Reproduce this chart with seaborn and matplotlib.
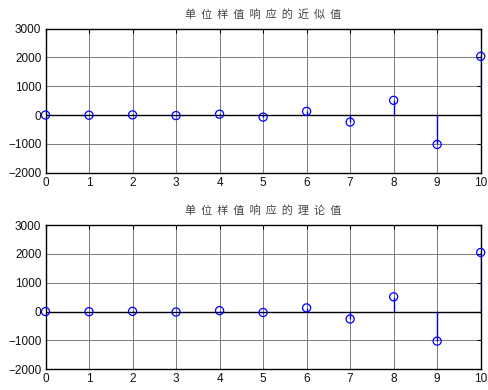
import numpy as np
import pandas as pd
import matplotlib
matplotlib.use("Agg")
import matplotlib.pyplot as plt
import seaborn as sns

# sample index n
n = [0, 1, 2, 3, 4, 5, 6, 7, 8, 9, 10]
# unit-sample response, approximate (recursive) values
h_approx = [2, -4, 8, -16, 32, -70, 130, -240, 512, -1020, 2040]
# unit-sample response, theoretical values
h_theory = [2, -4, 8, -16, 32, -32, 128, -256, 512, -1024, 2048]

titles = ["单位样值响应的近似值", "单位样值响应的理论值"]
xticks = list(range(0, 11))
yticks = [-2000, -1000, 0, 1000, 2000, 3000]

sns.set_style("white")
plt.rcParams["font.family"] = ["Liberation Sans", "DejaVu Sans"]

fig = plt.figure(figsize=(4.88, 3.90), dpi=100)
boxes = [
    [45.5 / 488, 1 - 172.7 / 390, (480.7 - 45.5) / 488, (172.7 - 28.7) / 390],
    [45.5 / 488, 1 - 369.3 / 390, (480.7 - 45.5) / 488, (369.3 - 225.0) / 390],
]

for box, vals, title in zip(boxes, [h_approx, h_theory], titles):
    ax = fig.add_axes(box)
    df = pd.DataFrame({"n": n, "h": vals})

    ax.set_xlim(0, 10)
    ax.set_ylim(-2000, 3000)
    ax.set_xticks(xticks)
    ax.set_yticks(yticks)
    ax.grid(True, color="#7a7a7a", linewidth=0.7, linestyle="-")
    ax.set_axisbelow(True)

    # baseline and stems
    ax.axhline(0, color="black", linewidth=1.0, zorder=2)
    ax.vlines(df["n"], 0, df["h"], color="blue", linewidth=1.0, zorder=3)
    sns.scatterplot(data=df, x="n", y="h", ax=ax, marker="o", s=34,
                    facecolor="none", edgecolor="blue", linewidth=0.9,
                    zorder=4, clip_on=False, legend=False)

    ax.set_xlabel("")
    ax.set_ylabel("")
    for s in ax.spines.values():
        s.set_color("black")
        s.set_linewidth(1.0)
    ax.tick_params(direction="in", length=3, width=0.8, color="black",
                   top=True, right=True, labelsize=8.5, pad=3,
                   labelcolor="#111111")
    ax.set_title("  ".join(title), fontsize=8, color="#444444", pad=8,
                 family=["Noto Sans CJK SC", "DejaVu Sans"])

fig.savefig("out.png", dpi=100)
